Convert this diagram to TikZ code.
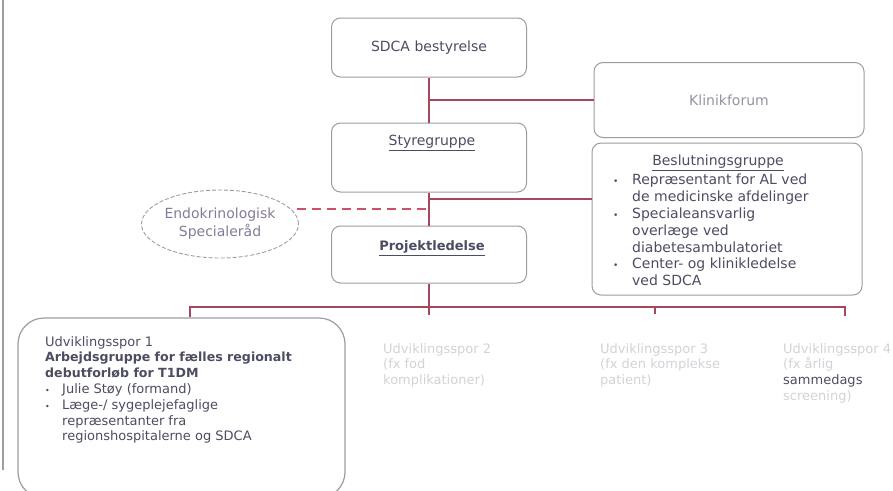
\documentclass[tikz,border=0pt]{standalone}
\usepackage{fontspec}
\setmainfont{DejaVu Sans}
\usetikzlibrary{shapes.geometric}

\definecolor{linkred}{HTML}{A4475F}
\definecolor{dashred}{HTML}{CC5069}
\definecolor{boxtext}{HTML}{4C4D62}
\definecolor{boxline}{HTML}{9C9CA4}
\definecolor{endotext}{HTML}{857A9A}
\definecolor{faint}{HTML}{D2D2D8}

\newcommand{\bul}{\makebox[19pt][l]{\fontsize{9}{9}\selectfont\textbullet}}
\newcommand{\bulb}{\makebox[17pt][l]{\fontsize{8}{8}\selectfont\textbullet}}

\begin{document}
\begin{tikzpicture}[
  x=1pt, y=-1pt,
  font=\fontsize{14}{16.8}\selectfont,
  text=boxtext,
  unit/.style={draw=boxline, line width=1pt, rounded corners=9pt, fill=white,
               minimum width=195pt, inner sep=0pt},
  wide/.style={unit, minimum width=270pt},
  ttl/.style={inner sep=0pt},
  oval/.style={ellipse, draw=boxline, line width=0.9pt, dash pattern=on 4pt off 2pt,
               minimum width=154pt, minimum height=68pt, align=center,
               text=endotext, inner sep=0pt},
  track/.style={inner sep=0pt, anchor=north west, align=left,
                font=\fontsize{13}{15.8}\selectfont},
  conn/.style={draw=linkred, line width=2pt},
  dashlink/.style={draw=dashred, line width=2pt, dash pattern=on 9pt off 6pt},
]
  \useasboundingbox (0,0) rectangle (893,490);
  \draw[boxline, line width=1.4pt] (3,0) -- (3,470);

  % governance column
  \node[unit, minimum height=59pt] (bst) at (429,47.5) {SDCA bestyrelse};
  \node[wide, minimum height=75pt, text=boxtext!60] (klf) at (729,100) {Klinikforum};
  \node[unit, minimum height=69pt] (sty) at (429,157.5) {};
  \node[ttl] (styT) at (432,143) {\underline{Styregruppe}};
  \node[unit, minimum height=57pt] (prj) at (429,254.5) {};
  \node[ttl] (prjT) at (432,248) {\fontsize{13}{15}\selectfont\bfseries\underline{Projektledelse}};

  \node[wide, minimum height=152pt] (bsl) at (727,219) {};
  \node[ttl] (bslT) at (718,163) {\underline{Beslutningsgruppe}};
  \node[ttl, anchor=north west, align=left] (bslL) at (613,174) {%
    \bul Repræsentant for AL ved\\
    \hspace*{19pt}de medicinske afdelinger\\
    \bul Specialeansvarlig\\
    \hspace*{19pt}overlæge ved\\
    \hspace*{19pt}diabetesambulatoriet\\
    \bul Center- og klinikledelse\\
    \hspace*{19pt}ved SDCA};

  \node[oval] (end) at (220,224) {Endokrinologisk\\[1pt]Specialeråd};

  % development tracks
  \node[draw=boxline, line width=1.2pt, rounded corners=26pt, fill=white,
        minimum width=327pt, minimum height=180pt] (ud1) at (181.5,408) {};
  \node[track] (ud1T) at (45,336) {%
    Udviklingsspor 1\\
    \textbf{\fontsize{12.6}{15.8}\selectfont Arbejdsgruppe for fælles regionalt}\\
    \textbf{\fontsize{12.6}{15.8}\selectfont debutforløb for T1DM}\\
    \bulb Julie Støy (formand)\\
    \bulb Læge-/ sygeplejefaglige\\
    \hspace*{17pt}repræsentanter fra\\
    \hspace*{17pt}regionshospitalerne og SDCA};
  \node[track, text=faint] (sp2) at (383,343)
    {Udviklingsspor 2\\(fx fod\\komplikationer)};
  \node[track, text=faint] (sp3) at (600,343)
    {Udviklingsspor 3\\(fx den komplekse\\patient)};
  \node[track, text=faint] (sp4) at (783,343)
    {Udviklingsspor 4\\(fx årlig\\\textcolor{boxtext}{sammedags}\\screening)};

  % trunk
  \draw[conn] (bst.south) -- (sty.north);
  \draw[conn] (sty.south) -- (prj.north);
  \coordinate (tk) at (429,315);
  \draw[conn] (prj.south) -- (tk);

  % side branches
  \coordinate (jk) at (bst.south |- klf.west);
  \draw[conn] (jk) -- (klf.west);
  \coordinate (jb) at (429,199);
  \draw[conn] (jb) -- (jb -| bsl.west);

  % advisory link, dashed
  \coordinate (jd) at (426,209);
  \coordinate (ds) at (291,209);
  \draw[dashlink] (jd) -- (ds);

  % bus to the tracks
  \coordinate (b1) at (190,307);
  \coordinate (b3) at (655,307);
  \coordinate (b4) at (845,307);
  \draw[conn] (b1 |- ud1.north) -- (b1) -- (b4) -- ++(0,9);
  \draw[conn] (b3) -- ++(0,7);
\end{tikzpicture}
\end{document}
